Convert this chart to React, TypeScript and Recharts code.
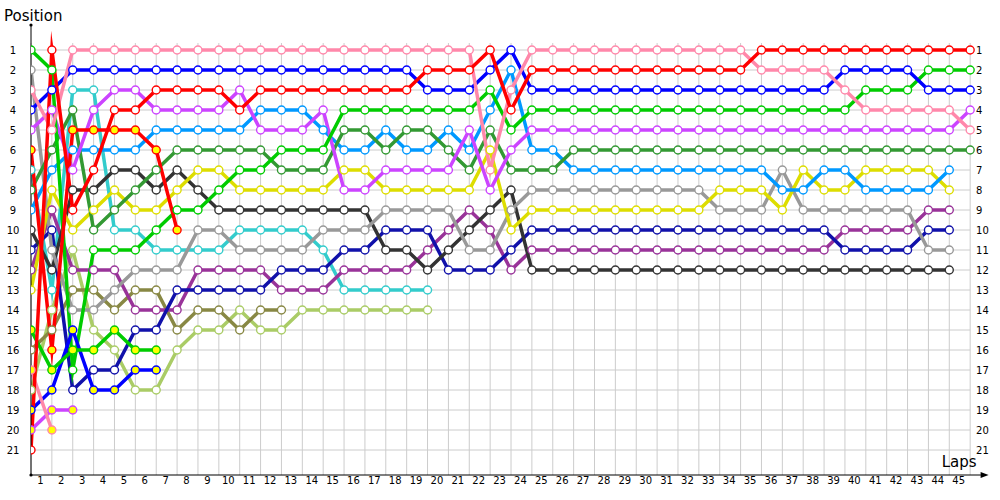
import React from 'react';
import { LineChart, Line, XAxis, YAxis, ReferenceLine } from 'recharts';

// ---- tick labels ----
const lapLabels = ['1','2','3','4','5','6','7','8','9','10','11','12','13','14','15','16','17','18','19','20','21','22','23','24','25','26','27','28','29','30','31','32','33','34','35','36','37','38','39','40','41','42','43','44','45'];
const positionTicks = [1,2,3,4,5,6,7,8,9,10,11,12,13,14,15,16,17,18,19,20,21];

// ---- positions per lap (index = lap, starting at lap 0 = grid) ----
const pinkA = [3,5,1,1,1,1,1,1,1,1,1,1,1,1,1,1,1,1,1,1,1,1,7,3,1,1,1,1,1,1,1,1,1,1,1,2,2,2,2,3,4,4,4,4,4,5];
const redA = [21,1,9,7,4,4,3,3,3,3,4,3,3,3,3,3,3,3,3,2,2,2,1,4,2,2,2,2,2,2,2,2,2,2,2,1,1,1,1,1,1,1,1,1,1,1];
const blueA = [4,3,2,2,2,2,2,2,2,2,2,2,2,2,2,2,2,2,2,3,3,3,2,1,3,3,3,3,3,3,3,3,3,3,3,3,3,3,3,2,2,2,2,3,3,3];
const greenA = [1,2,17,11,11,11,10,9,9,8,7,7,6,6,6,4,4,4,4,4,4,4,3,5,4,4,4,4,4,4,4,4,4,4,4,4,4,4,4,4,3,3,3,2,2,2];
const violetA = [5,4,7,4,3,3,4,4,4,4,3,5,5,5,4,8,8,7,7,7,7,5,8,6,5,5,5,5,5,5,5,5,5,5,5,5,5,5,5,5,5,5,5,5,5,4];
const darkGreenA = [8,6,4,10,9,8,7,6,6,6,6,6,7,7,7,5,5,6,5,5,6,7,5,7,7,7,6,6,6,6,6,6,6,6,6,6,6,6,6,6,6,6,6,6,6,6];
const skyBlueA = [9,7,6,6,6,6,5,5,5,5,5,4,4,4,5,6,6,5,6,6,5,6,4,2,6,6,7,7,7,7,7,7,7,7,7,7,8,8,7,7,8,8,8,8,7];
const yellowA = [13,8,10,9,8,9,9,8,7,7,8,8,8,8,8,7,7,8,8,8,8,8,6,10,9,9,9,9,9,9,9,9,9,8,8,8,9,7,8,8,7,7,7,7,8];
const grayA = [2,11,14,14,13,12,12,12,10,10,11,11,11,11,10,10,10,9,9,9,9,11,11,9,8,8,8,8,8,8,8,8,8,9,9,9,7,9,9,9,9,9,9,11,11];
const blackA = [10,12,8,8,7,7,8,7,8,9,9,9,9,9,9,9,9,11,11,12,11,10,9,8,12,12,12,12,12,12,12,12,12,12,12,12,12,12,12,12,12,12,12,12,12];
const navyA = [11,10,18,17,17,15,15,13,13,13,13,13,12,12,12,11,11,10,10,10,12,12,12,11,10,10,10,10,10,10,10,10,10,10,10,10,10,10,10,11,11,11,11,10,10];
const purpleA = [12,9,12,12,12,14,14,14,12,12,12,12,13,13,13,12,12,12,12,11,10,9,10,12,11,11,11,11,11,11,11,11,11,11,11,11,11,11,11,10,10,10,10,9,9];
const cyanA = [7,13,3,3,10,10,11,11,11,11,10,10,10,10,11,13,13,13,13,13];
const oliveA = [16,15,13,13,14,13,13,15,14,14,15,14,14];
const lightGreenA = [18,14,11,15,16,18,18,16,15,15,14,15,15,14,14,14,14,14,14,14];
const redB = [6,16,5,5,5,5,6,10];
const greenB = [15,17,16,16,15,16,16];
const blueB = [19,18,15,18,18,17,17];
const violetB = [20,19,19];
const pinkB = [17,20];

const WHITE = '#ffffff';
const YEL = '#ffff00';

const seriesDefs = [
  { name: 'lightGreenA', values: lightGreenA, color: '#aacc66', fill: WHITE },
  { name: 'oliveA', values: oliveA, color: '#888844', fill: WHITE },
  { name: 'cyanA', values: cyanA, color: '#33cccc', fill: WHITE },
  { name: 'purpleA', values: purpleA, color: '#993399', fill: WHITE },
  { name: 'navyA', values: navyA, color: '#1111aa', fill: WHITE },
  { name: 'blackA', values: blackA, color: '#333333', fill: WHITE },
  { name: 'grayA', values: grayA, color: '#999999', fill: WHITE },
  { name: 'yellowA', values: yellowA, color: '#dddd00', fill: WHITE },
  { name: 'skyBlueA', values: skyBlueA, color: '#0099ff', fill: WHITE },
  { name: 'darkGreenA', values: darkGreenA, color: '#339933', fill: WHITE },
  { name: 'violetA', values: violetA, color: '#cc44ff', fill: WHITE },
  { name: 'greenA', values: greenA, color: '#00cc00', fill: WHITE },
  { name: 'blueA', values: blueA, color: '#0000ff', fill: WHITE },
  { name: 'pinkA', values: pinkA, color: '#ff88aa', fill: WHITE },
  { name: 'violetB', values: violetB, color: '#cc44ff', fill: YEL },
  { name: 'blueB', values: blueB, color: '#0000ff', fill: YEL },
  { name: 'greenB', values: greenB, color: '#00cc00', fill: YEL },
  { name: 'pinkB', values: pinkB, color: '#ff88aa', fill: YEL },
  { name: 'redB', values: redB, color: '#ff0000', fill: YEL },
  { name: 'redA', values: redA, color: '#ff0000', fill: WHITE },
];

const series = seriesDefs.map((s) => ({
  ...s,
  data: s.values.map((pos, lap) => ({ lap, pos })),
}));

const gridLaps = [0, ...lapLabels.map(Number)];
const lapTickValues = lapLabels.map((_, i) => i + 0.5);
const LAST_LAP = gridLaps[gridLaps.length - 1];

const FONT = '"DejaVu Sans", Verdana, sans-serif';
const GRID = '#cccccc';

function LeftTick(props: any) {
  const { x, y, payload } = props;
  return (
    <text x={x - 18} y={y} dy={3.5} textAnchor="middle" fontSize={10} fontFamily={FONT} fill="#000">
      {payload.value}
    </text>
  );
}

function RightTick(props: any) {
  const { x, y, payload } = props;
  return (
    <text x={x - 4.5} y={y} dy={3.5} textAnchor="start" fontSize={10} fontFamily={FONT} fill="#000">
      {payload.value}
    </text>
  );
}

function BottomTick(props: any) {
  const { x, y, payload } = props;
  return (
    <text x={x - 1} y={y} dy={9} textAnchor="middle" fontSize={10} fontFamily={FONT} fill="#000">
      {String(Math.round(payload.value + 0.5))}
    </text>
  );
}

function XLabel(props: any) {
  const vb = props.viewBox || {};
  const x = vb.x ?? 0;
  const y = vb.y ?? 0;
  const w = vb.width ?? 0;
  const ex = x + w;
  return (
    <g>
      <line x1={ex} y1={y} x2={ex + 3} y2={y} stroke="#000" />
      <polygon points={`${ex},${y - 3} ${ex + 8},${y} ${ex},${y + 3}`} fill="#000" />
      <circle cx={x} cy={y} r={1.6} fill="#000" />
      <text x={ex - 4} y={y - 8} textAnchor="end" fontSize={15} fontFamily={FONT} fill="#000">
        Laps
      </text>
    </g>
  );
}

function YLabel(props: any) {
  const vb = props.viewBox || {};
  const x = vb.x ?? 0;
  const y = vb.y ?? 0;
  const w = vb.width ?? 0;
  return (
    <g>
      <circle cx={x + w} cy={y} r={1.6} fill="#000" />
      <text x={x + 4} y={y - 4} textAnchor="start" fontSize={15} fontFamily={FONT} fill="#000">
        Position
      </text>
    </g>
  );
}

export default function App() {
  return (
    <div style={{ position: 'absolute', left: 0, top: 0, width: 1000, height: 500, background: '#fff' }}>
      <LineChart width={1000} height={500} margin={{ top: 25, right: 0, bottom: 0, left: 0 }}>
        <XAxis
          xAxisId="x"
          type="number"
          dataKey="lap"
          domain={[0, 45.5]}
          allowDataOverflow
          ticks={lapTickValues}
          interval={0}
          tick={<BottomTick />}
          tickLine={false}
          tickSize={0}
          tickMargin={0}
          height={25}
          axisLine={{ stroke: '#000' }}
          label={{ content: <XLabel /> } as any}
        />
        <YAxis
          yAxisId="l"
          type="number"
          domain={[-0.25, 22.25]}
          reversed
          allowDataOverflow
          ticks={positionTicks}
          interval={0}
          tick={<LeftTick />}
          tickLine={false}
          tickSize={0}
          tickMargin={0}
          width={31}
          axisLine={{ stroke: '#000' }}
          label={{ content: <YLabel /> } as any}
        />
        <YAxis
          yAxisId="r"
          orientation="right"
          type="number"
          domain={[-0.25, 22.25]}
          reversed
          allowDataOverflow
          ticks={positionTicks}
          interval={0}
          tick={<RightTick />}
          tickLine={false}
          tickSize={0}
          tickMargin={0}
          width={19.4}
          axisLine={false}
        />
        {gridLaps.map((k) => (
          <ReferenceLine
            key={'v' + k}
            xAxisId="x"
            yAxisId="l"
            segment={[{ x: k, y: 0.65 }, { x: k, y: 22.25 }]}
            stroke={GRID}
            strokeWidth={1}
            ifOverflow="visible"
          />
        ))}
        {positionTicks.map((p) => (
          <ReferenceLine
            key={'h' + p}
            xAxisId="x"
            yAxisId="l"
            segment={[{ x: 0, y: p }, { x: LAST_LAP, y: p }]}
            stroke={GRID}
            strokeWidth={1}
            ifOverflow="visible"
          />
        ))}
        {series.map((s) => (
          <Line
            key={s.name}
            name={s.name}
            xAxisId="x"
            yAxisId="l"
            data={s.data}
            dataKey="pos"
            type="linear"
            stroke={s.color}
            strokeWidth={3.5}
            strokeMiterlimit={12}
            dot={{ r: 4, fill: s.fill, stroke: s.color, strokeWidth: 1.4 }}
            activeDot={false}
            isAnimationActive={false}
          />
        ))}
      </LineChart>
    </div>
  );
}
